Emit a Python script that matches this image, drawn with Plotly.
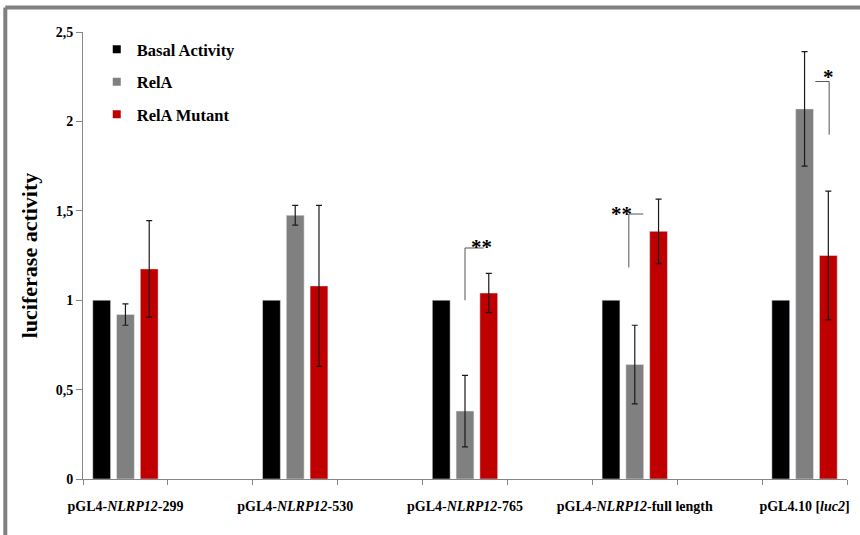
import plotly.graph_objects as go

# Reporter constructs (plotted at every other slot on a 9-slot axis)
categories = [
    "pGL4-<i>NLRP12</i>-299",
    "pGL4-<i>NLRP12</i>-530",
    "pGL4-<i>NLRP12</i>-765",
    "pGL4-<i>NLRP12</i>-full length",
    "pGL4.10 [<i>luc2</i>]",
]
slots = [1, 3, 5, 7, 9]

basal = [1.0, 1.0, 1.0, 1.0, 1.0]
rela = [0.92, 1.475, 0.38, 0.64, 2.07]
rela_err = [0.06, 0.055, 0.20, 0.22, 0.32]
mutant = [1.175, 1.08, 1.04, 1.385, 1.25]
mutant_err = [0.27, 0.45, 0.11, 0.18, 0.36]

y_ticks = [0, 0.5, 1, 1.5, 2, 2.5]
y_ticktext = ["0", "0,5", "1", "1,5", "2", "2,5"]

series_names = ["Basal Activity", "RelA", "RelA Mutant"]
colors = ["#000000", "#808080", "#C00000"]

SERIF = "Liberation Serif, Times New Roman, serif"

fig = go.Figure()

err_style = dict(type="data", visible=True, color="#1a1a1a", thickness=1.2, width=3)

fig.add_trace(go.Bar(x=slots, y=basal, marker_color=colors[0], showlegend=False))
fig.add_trace(go.Bar(x=slots, y=rela, marker_color=colors[1], showlegend=False,
                     error_y=dict(array=rela_err, **err_style)))
fig.add_trace(go.Bar(x=slots, y=mutant, marker_color=colors[2], showlegend=False,
                     error_y=dict(array=mutant_err, **err_style)))

# Legend entries with small square swatches
for i, (name, col) in enumerate(zip(series_names, colors)):
    fig.add_trace(go.Scatter(x=[None], y=[None], mode="markers", name=name,
                             legendgroup=f"g{i}",
                             marker=dict(symbol="square", size=8, color=col)))

# Significance brackets (x in slot units, y in data units)
brackets = [
    dict(path=[(5.0, 1.0), (5.0, 1.292), (5.22, 1.292)], label="**", at=(5.19, 1.30)),
    dict(path=[(6.93, 1.183), (6.93, 1.482), (7.10, 1.482)], label="**", at=(6.84, 1.48)),
    dict(path=[(9.127, 2.223), (9.29, 2.223), (9.29, 1.926)], label="*", at=(9.28, 2.25)),
]
shapes = []
annotations = []
for b in brackets:
    pts = b["path"]
    d = "M " + " L ".join(f"{x},{y}" for x, y in pts)
    shapes.append(dict(type="path", path=d, xref="x", yref="y",
                       line=dict(color="#555555", width=1)))
    annotations.append(dict(x=b["at"][0], y=b["at"][1], xref="x", yref="y",
                            text=b["label"], showarrow=False,
                            font=dict(family=SERIF, size=21, color="black", weight="bold")))

# Grey frame along the top and left edges of the figure
shapes.append(dict(type="line", xref="paper", yref="paper",
                   x0=-0.1017, x1=1.05, y0=1.0547, y1=1.0547,
                   line=dict(color="#808080", width=4)))
shapes.append(dict(type="line", xref="paper", yref="paper",
                   x0=-0.1017, x1=-0.1017, y0=1.0547, y1=-0.2,
                   line=dict(color="#808080", width=4)))

fig.update_layout(
    width=860, height=535,
    margin=dict(l=83, r=10, t=31.5, b=56),
    paper_bgcolor="white", plot_bgcolor="white",
    barmode="group", bargap=0.58, bargroupgap=0.25,
    font=dict(family=SERIF, color="black"),
    shapes=shapes, annotations=annotations,
    legend=dict(x=0.018, y=1.0, xanchor="left", yanchor="top",
                bgcolor="rgba(0,0,0,0)", tracegroupgap=8,
                font=dict(family=SERIF, size=16.5, color="black", weight="bold"),
                itemsizing="trace", itemwidth=30),
    xaxis=dict(range=[0.5, 9.5], tickmode="array", tickvals=slots, ticktext=categories,
               ticks="", showline=True, linecolor="#868686", linewidth=1,
               showgrid=False, zeroline=False, ticklabelstandoff=14,
               tickfont=dict(family=SERIF, size=14, color="black", weight="bold"),
               minor=dict(tickmode="linear", tick0=0.5, dtick=1, ticks="outside",
                          ticklen=5, tickcolor="#868686", showgrid=False)),
    yaxis=dict(range=[0, 2.5], tickmode="array", tickvals=y_ticks, ticktext=y_ticktext,
               ticks="outside", ticklen=6, tickcolor="#868686",
               showline=True, linecolor="#868686", linewidth=1,
               showgrid=False, zeroline=False,
               tickfont=dict(family=SERIF, size=14, color="black", weight="bold"),
               title=dict(text="luciferase activity", standoff=12,
                          font=dict(family=SERIF, size=22, color="black", weight="bold"))),
)

fig.write_html("out.html")
